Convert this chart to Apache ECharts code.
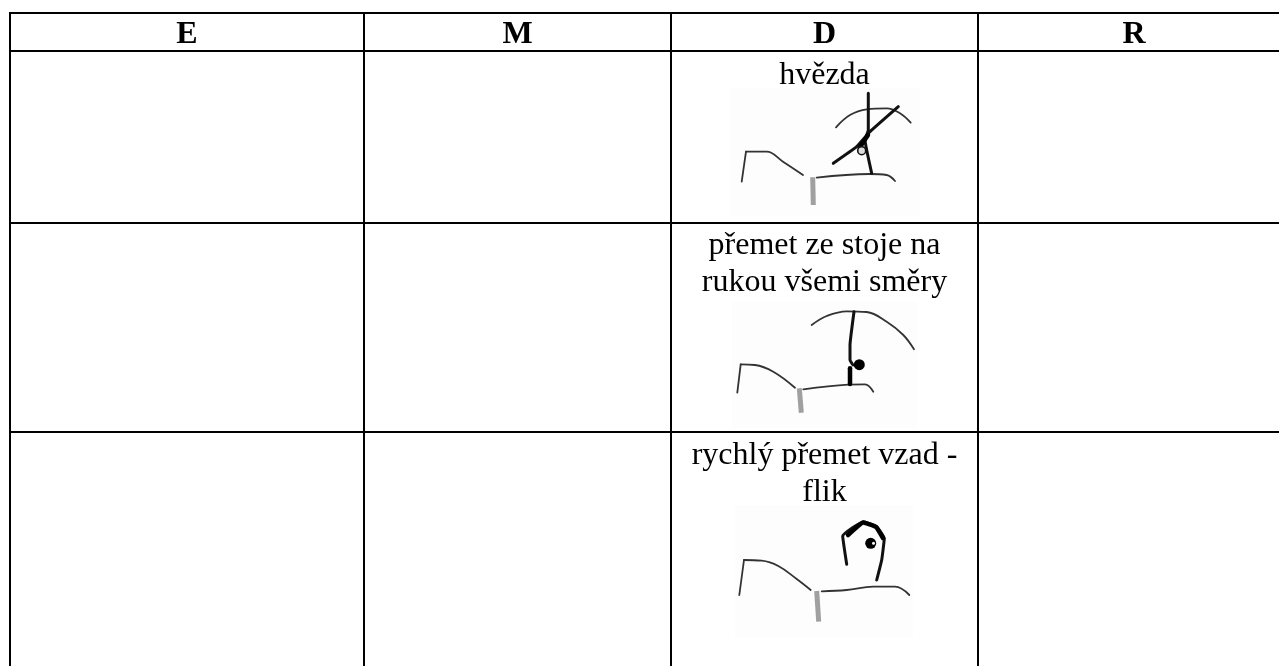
<!DOCTYPE html>
<html>
<head>
<meta charset="utf-8">
<style>html,body{margin:0;padding:0;background:#fff}#c{width:1279px;height:666px}</style>
<script src="https://cdn.jsdelivr.net/npm/echarts@6/dist/echarts.min.js"></script>
</head>
<body>
<div id="c"></div>
<script>
// ---- table content ----
const categories = ['E', 'M', 'D', 'R'];
const columnEdges = [10, 364, 671, 978, 1290];
const rowEdges = [13, 51, 223, 432];
const pageBottom = 666;
const skillColumn = 2;
const skillLines = [
  { text: 'hvězda', y: 76 },
  { text: 'přemet ze stoje na', y: 246 },
  { text: 'rukou všemi směry', y: 283 },
  { text: 'rychlý přemet vzad -', y: 456 },
  { text: 'flik', y: 493 }
];
const headerY = 35;

// ---- sketches ----
const sketchBacks = [[730, 88, 920, 216], [732, 302, 917, 428], [735, 505, 913, 637]];
const cornerStrokes = [
  [[741.7,181.7],[746,151.7]],
  [[737.3,392.7],[740.7,364.3]],
  [[739.3,595],[744,560]]
];
const curveStrokes = [
  [[746,151.7],[766.7,151.7],[783,161.7],[803,175]],
  [[816.7,177.7],[870,174],[886.7,175],[895,181]],
  [[836,127.3],[850,115],[866.7,109.3],[886.7,108.3],[900,113.3],[910.7,122.7]],
  [[740.7,364.3],[755,365],[773.3,371.7],[795,387.7]],
  [[803.3,389.3],[848.3,384.7],[865,384.3],[873.3,391.7]],
  [[811.7,325],[826.7,316],[846.7,311.3],[866.7,312],[886.7,321.7],[903.3,335],[914,349.3]],
  [[744,560],[761.7,560.7],[778.3,566],[796.7,579],[810.7,590]],
  [[821.7,591.3],[846.7,590],[873.3,586.7],[895,586.7],[909.3,595]]
];
const boldStrokes = [
  [[868.3,93.3],[868.3,130],[865,140],[871.7,173.3]],
  [[833.3,163.3],[856.7,146.7],[870,131.7],[898.3,106.7]],
  [[854,311.7],[850,345],[850,360],[853,365]],
  [[846.7,564.3],[842.7,536],[863.3,521.7],[876.7,526.7],[884.3,538.3],[881.7,560],[876.7,580]]
];
const heavyStrokes = [
  [[860,147],[868,135]],
  [[850,368.3],[850,384]],
  [[848,535],[863.3,522.5],[876,527],[883,538]]
];
const greyTicks = [
  [[812.7,177.3],[813.3,205]],
  [[799.3,388.3],[801.3,412.7]],
  [[816.7,591],[818.7,621.7]]
];
const heads = [[859.3,364.7],[870.7,543.3]];
const headSpots = [[873.5,543.3]];
const hollowHeads = [[861.7,150.7]];

// ---- assemble ----
const series = [];
series.push({
  type: 'custom', silent: true, z: 1,
  data: sketchBacks,
  renderItem: function (p, api) {
    const a = api.coord([api.value(0), api.value(1)]);
    const b = api.coord([api.value(2), api.value(3)]);
    return { type: 'rect', shape: { x: a[0], y: a[1], width: b[0] - a[0], height: b[1] - a[1] }, style: { fill: '#fdfdfd' } };
  },
  encode: { x: [0, 2], y: [1, 3] }
});
function poly(points, color, width, smooth, z, cap) {
  series.push({
    type: 'line', data: points, symbol: 'none', silent: true, z: z, smooth: smooth,
    lineStyle: { color: color, width: width, cap: cap || 'round', join: 'round', opacity: 1 }
  });
}
rowEdges.forEach(y => poly([[columnEdges[0] - 1, y], [1279, y]], '#000', 2, false, 5, 'butt'));
columnEdges.forEach(x => poly([[x, rowEdges[0]], [x, pageBottom]], '#000', 2, false, 5, 'butt'));
cornerStrokes.forEach(s => poly(s, '#333', 1.8, false, 3));
curveStrokes.forEach(s => poly(s, '#333', 1.8, 0.4, 3));
boldStrokes.forEach(s => poly(s, '#111', 3, 0.1, 3));
heavyStrokes.forEach(s => poly(s, '#000', 4.5, 0.1, 3));
greyTicks.forEach(s => poly(s, '#a0a0a0', 5, false, 3, 'butt'));
function dots(items, size, fill, border, z) {
  series.push({
    type: 'scatter', data: items, symbol: 'circle', symbolSize: size, silent: true, z: z,
    itemStyle: { color: fill, borderColor: border, borderWidth: border ? 1.6 : 0, opacity: 1 }
  });
}
dots(heads, 11, '#000', null, 4);
dots(headSpots, 3, '#fff', null, 5);
dots(hollowHeads, 8, '#ddd', '#111', 4);
function textSeries(items, weight) {
  series.push({
    type: 'scatter', data: items, symbolSize: 0, silent: true, z: 6,
    itemStyle: { opacity: 1 },
    label: {
      show: true, position: 'inside', align: 'center', verticalAlign: 'middle', opacity: 1,
      formatter: p => p.data[2],
      fontFamily: '"Liberation Serif", serif', fontSize: 32, fontWeight: weight, color: '#000'
    }
  });
}
const centre = i => (columnEdges[i] + columnEdges[i + 1]) / 2;
textSeries(categories.map((c, i) => [centre(i), headerY, c]), 'bold');
textSeries(skillLines.map(l => [centre(skillColumn), l.y, l.text]), 'normal');

const chart = echarts.init(document.getElementById('c'), null, { renderer: 'canvas' });
chart.setOption({
  animation: false,
  backgroundColor: '#fff',
  grid: { left: 0, right: 0, top: 0, bottom: 0 },
  xAxis: { type: 'value', min: 0, max: 1279, show: false },
  yAxis: { type: 'value', min: 0, max: 666, inverse: true, show: false },
  series: series
});
</script>
</body>
</html>
